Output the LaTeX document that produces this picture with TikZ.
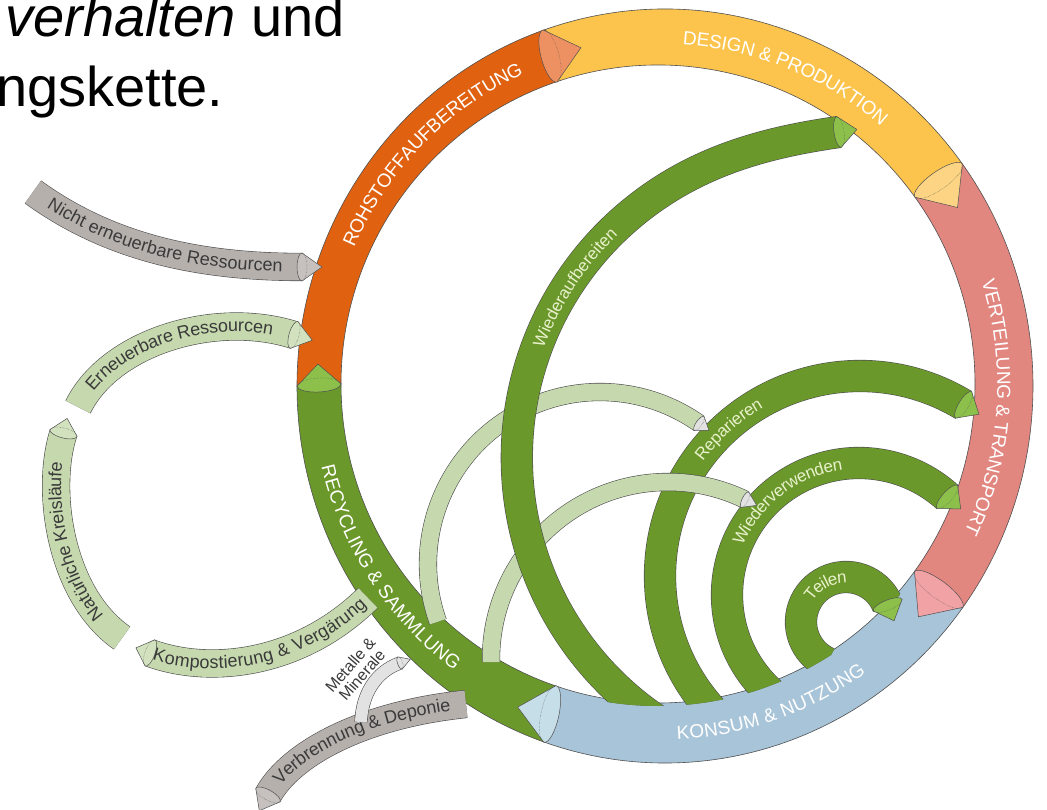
\documentclass[tikz,border=0pt]{standalone}
\usepackage{fontspec}
\setmainfont{Liberation Sans}
\usetikzlibrary{calc,decorations.text}
\definecolor{cEdge}{HTML}{505050}
\definecolor{cOrange}{HTML}{E06210}
\definecolor{cOrangeL}{HTML}{EE9162}
\definecolor{cYellow}{HTML}{FCC44C}
\definecolor{cYellowL}{HTML}{FCD483}
\definecolor{cPink}{HTML}{E28680}
\definecolor{cPinkL}{HTML}{F1A2A5}
\definecolor{cBlue}{HTML}{A8C4D8}
\definecolor{cBlueL}{HTML}{C6DEE7}
\definecolor{cGreen}{HTML}{6B982A}
\definecolor{cGreenL}{HTML}{8CC04B}
\definecolor{cPale}{HTML}{C6D9AE}
\definecolor{cPaleL}{HTML}{D2E2BE}
\definecolor{cGray}{HTML}{B6B0AD}
\definecolor{cGrayC}{HTML}{C6C1BF}
\definecolor{cGrayL}{HTML}{E2E2E2}
\definecolor{txtDark}{HTML}{3A3A3A}
\definecolor{txtPale}{HTML}{E8F1CB}
\newcommand{\ringseg}[3]{\filldraw[fill=#3, draw=cEdge, line width=0.6pt]
  ($(665,424)+(#1:368 and 377)$) arc[start angle=#1, end angle=#2, x radius=368, y radius=377]
  -- ($(658,426)+(#2:317 and 319)$) arc[start angle=#2, end angle=#1, x radius=317, y radius=319] -- cycle;}
\newcommand{\mycone}[6]{\begin{scope}[shift={#1}, rotate=#2]
  \filldraw[fill=#6, draw=cEdge, line width=0.5pt] (0,#3) arc[start angle=90, end angle=270, x radius=#4, y radius=#3] -- (#5,0) -- cycle;
  \draw[cEdge, densely dotted, line width=0.4pt] (0,-#3) arc[start angle=-90, end angle=90, x radius=#4, y radius=#3];
  \end{scope}}
\newcommand{\ringfont}{\fontsize{19}{19}\selectfont\color{white}}
\newcommand{\arcfont}{\fontsize{17}{17}\selectfont\color{txtPale}}
\newcommand{\leftfont}{\fontsize{18}{18}\selectfont\color{txtDark}}
\tikzset{band/.style 2 args={draw=cEdge, line width=0.6pt, double=#2, double distance=#1}}
\begin{document}
\begin{tikzpicture}[x=1pt,y=1pt]
\useasboundingbox (0,0) rectangle (1047,810);
\clip (0,0) rectangle (1047,810);

% title
\node[anchor=base east, inner sep=0pt, font=\fontsize{56}{56}\selectfont] (title1) at (345,773) {\textit{verhalten} und};
\node[anchor=base west, inner sep=0pt, font=\fontsize{56}{56}\selectfont] (title2) at (-4,703) {ngskette.};

% main ring
\ringseg{180}{109}{cOrange}
\ringseg{109}{36}{cYellow}
\ringseg{36}{-36}{cPink}
\ringseg{-36}{-109}{cBlue}
\ringseg{-109}{-180}{cGreen}

% left side flows
\draw[band={27pt}{cGray}] (33,618) .. controls (110,562) and (200,543) .. (302,543);
\draw[band={27pt}{cPale}] (78,403) .. controls (110,468) and (215,500) .. (294,475);
\draw[band={27pt}{cPale}] (122,172) .. controls (60,215) and (45,320) .. (63.5,377);
\draw[band={27pt}{cPale}] (368,212) .. controls (300,145) and (210,135) .. (150,157);
\draw[band={27pt}{cGray}] (466,106) .. controls (360,95) and (290,55) .. (268,15);
\draw[band={12pt}{cGrayL}] (361,88) .. controls (362,115) and (375,138) .. (400,147);

\mycone{(302,543)}{0}{14}{5}{20}{cGrayC}
\mycone{(294,475)}{-16}{14}{5}{19}{cPaleL}
\mycone{(63.5,377)}{76}{14}{5}{15}{cPaleL}
\mycone{(150,157)}{160}{14}{5}{15}{cPaleL}
\mycone{(268,15)}{241}{14}{5}{18}{cGrayC}
\mycone{(400,147)}{20}{6.5}{2.5}{11}{cGrayL}

\path[decorate, decoration={text along path, text align={center}, raise=-5pt, text={|\leftfont|Nicht erneuerbare Ressourcen}}] (33,618) .. controls (110,562) and (200,543) .. (302,543);
\path[decorate, decoration={text along path, text align={center}, raise=-5pt, text={|\leftfont|Erneuerbare Ressourcen}}] (78,403) .. controls (110,468) and (215,500) .. (294,475);
\path[decorate, decoration={text along path, text align={center}, raise=-5pt, text={|\leftfont|Natürliche Kreisläufe}}] (122,172) .. controls (60,215) and (45,320) .. (63.5,377);
\path[decorate, decoration={text along path, text align={center}, raise=-5pt, text={|\leftfont|Kompostierung {\&} Vergärung}}] (148,157) .. controls (210,135) and (300,145) .. (368,212);
\path[decorate, decoration={text along path, text align={center}, raise=-5pt, text={|\leftfont|Verbrennung {\&} Deponie}}] (268,15) .. controls (290,55) and (360,95) .. (466,106);
\node[rotate=49, align=center, inner sep=0pt, text=txtDark, font=\fontsize{16}{15.5}\selectfont] (metal) at (356,140) {Metalle \&\\Minerale};

% inner loops (dark green)
\begin{scope}
\clip (338,426) arc[start angle=180, end angle=360, x radius=320, y radius=322] -- (1047,426) -- (1047,810) -- (0,810) -- (0,426) -- cycle;
\draw[band={31pt}{cGreen}] ($(860,234)+(225:200)$) arc[start angle=225, end angle=58.8, radius=200];
\draw[band={31pt}{cGreen}] ($(859,215)+(232:132)$) arc[start angle=232, end angle=48, radius=132];
\draw[band={31pt}{cGreen}] ($(846,188)+(245:45)$) arc[start angle=245, end angle=22, radius=45];
\end{scope}
% light loops
\draw[band={17pt}{cPale}] ($(600,246)+(199.6:172)$) arc[start angle=199.6, end angle=54.8, radius=172];
\draw[band={17pt}{cPale}] ($(668,151)+(181:177)$) arc[start angle=181, end angle=64.2, radius=177];
% Wiederaufbereiten
\begin{scope}
\clip (338,426) arc[start angle=180, end angle=360, x radius=320, y radius=322] -- (1047,426) -- (1047,810) -- (0,810) -- (0,426) -- cycle;
\draw[band={31pt}{cGreen}] ($(833.6,352.4)+(236:316.8)$) arc[start angle=236, end angle=130, radius=316.8] .. controls +(40:80) and +(188:80) .. (839,678);
\end{scope}

% ring arrowheads
\mycone{(550,754)}{15}{27}{9}{32}{cOrangeL}
\mycone{(938.6,629.5)}{-55}{29}{9}{33}{cYellowL}
\mycone{(938.6,220.5)}{-126.5}{30}{9}{34}{cPinkL}
\mycone{(550,96)}{168}{29}{9}{33}{cBlueL}
\mycone{(319,425)}{93}{22}{7}{21}{cGreenL}

% loop arrowheads
\mycone{(839,678)}{8}{15.5}{5}{18}{cGreenL}
\mycone{(963.6,405.1)}{-31.2}{15.5}{5}{18}{cGreenL}
\mycone{(947.3,313.1)}{-42}{15.5}{5}{18}{cGreenL}
\mycone{(887.7,204.9)}{-68}{15.5}{5}{17}{cGreenL}
\mycone{(699.1,386.6)}{-35.2}{8.5}{3}{12}{cGrayL}
\mycone{(745,310.3)}{-25.8}{8.5}{3}{13}{cGrayL}

% ring labels
\path[decorate, decoration={text along path, text align={center}, raise=-6.8pt, text={|\ringfont|ROHSTOFFAUFBEREITUNG}}] ($(661.5,425)+(195:342.5 and 348)$) arc[start angle=195, end angle=75, x radius=342.5, y radius=348];
\path[decorate, decoration={text along path, text align={center}, raise=-6.8pt, text={|\ringfont|DESIGN {\&} PRODUKTION}}] ($(661.5,425)+(128:342.5 and 348)$) arc[start angle=128, end angle=8, x radius=342.5, y radius=348];
\path[decorate, decoration={text along path, text align={center}, raise=-6.8pt, text={|\ringfont|VERTEILUNG {\&} TRANSPORT}}] ($(661.5,425)+(56:342.5 and 348)$) arc[start angle=56, end angle=-64, x radius=342.5, y radius=348];
\path[decorate, decoration={text along path, text align={center}, raise=-6.8pt, text={|\ringfont|KONSUM {\&} NUTZUNG}}] ($(661.5,425)+(-131:342.5 and 348)$) arc[start angle=-131, end angle=-11, x radius=342.5, y radius=348];
\path[decorate, decoration={text along path, text align={center}, raise=-6.8pt, text={|\ringfont|RECYCLING {\&} SAMMLUNG}}] ($(661.5,425)+(153.7:342.5 and 348)$) arc[start angle=153.7, end angle=273.7, x radius=342.5, y radius=348];

% loop labels
\path[decorate, decoration={text along path, text align={center}, raise=-6pt, text={|\arcfont|Wiederaufbereiten}}] ($(833.6,352.4)+(186.7:316)$) arc[start angle=186.7, end angle=106.7, radius=316];
\path[decorate, decoration={text along path, text align={center}, raise=-6pt, text={|\arcfont|Reparieren}}] ($(860,234)+(171.9:200)$) arc[start angle=171.9, end angle=91.9, radius=200];
\path[decorate, decoration={text along path, text align={center}, raise=-6pt, text={|\arcfont|Wiederverwenden}}] ($(859,215)+(177.2:132)$) arc[start angle=177.2, end angle=77.2, radius=132];
\path[decorate, decoration={text along path, text align={center}, raise=-6pt, text={|\arcfont|Teilen}}] ($(846,188)+(189:45)$) arc[start angle=189, end angle=49, radius=45];
\end{tikzpicture}
\end{document}
